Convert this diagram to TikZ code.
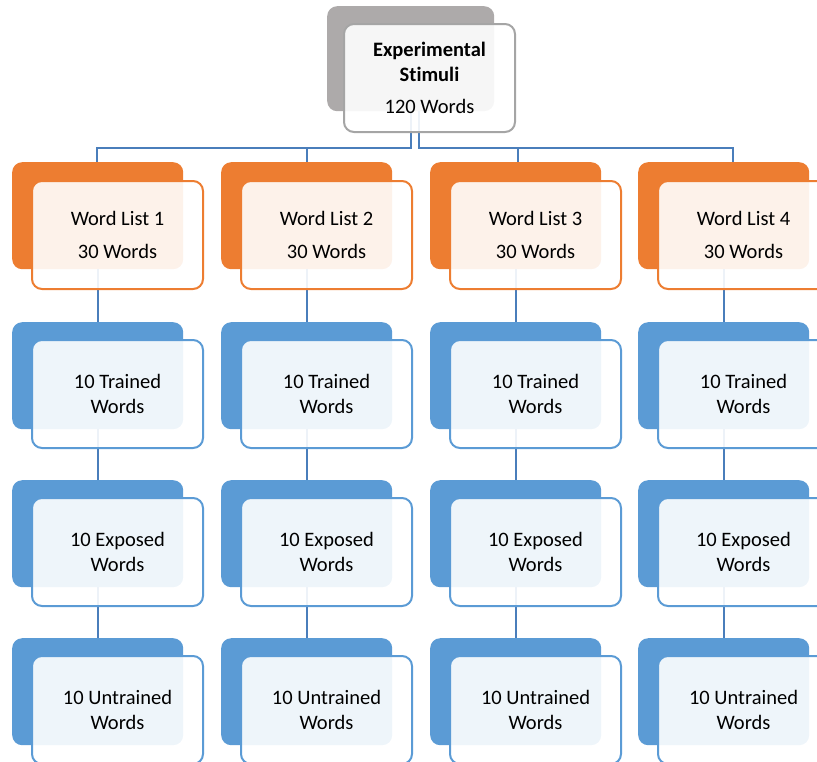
\documentclass[tikz,border=0pt]{standalone}
\usepackage{fontspec}
\setmainfont{Carlito}[Ligatures=NoCommon]
\definecolor{accOrange}{HTML}{ED7D31}
\definecolor{accBlue}{HTML}{5B9BD5}
\definecolor{accGray}{HTML}{ADAAAA}
\definecolor{edgeGray}{HTML}{A5A5A5}
\definecolor{linkBlue}{HTML}{4A7EBB}
\tikzset{
  backbox/.style={rounded corners=10pt, minimum width=171pt, minimum height=107pt,
    inner sep=0pt, anchor=north west, draw=none},
  frontbox/.style={rounded corners=10pt, minimum width=171pt, minimum height=108pt,
    inner sep=0pt, anchor=north west, line width=2pt, fill=white, fill opacity=0.9,
    text opacity=1, align=center, font=\fontsize{20.5}{24.5}\selectfont},
  conn/.style={draw=linkBlue, line width=2.2pt},
}
\begin{document}
\begin{tikzpicture}[x=1pt,y=-1pt]
\useasboundingbox (0,0) rectangle (817,761);
\clip (0,0) rectangle (817,761);

% back (solid) boxes
\node[backbox, fill=accGray, minimum width=167pt, minimum height=105pt] (btop) at (327,6) {};
\foreach \c/\x in {1/12,2/221,3/430,4/638}{
  \node[backbox, fill=accOrange] (b\c1) at (\x,162) {};
  \node[backbox, fill=accBlue] (b\c2) at (\x,322) {};
  \node[backbox, fill=accBlue] (b\c3) at (\x,480) {};
  \node[backbox, fill=accBlue] (b\c4) at (\x,638) {};
}

% connectors
\coordinate (busL) at (410.5,148);
\coordinate (topR) at (419,111);
\coordinate (busR) at (419,148);
\draw[conn] (btop.south) |- (busL) -| ([xshift=-0.5pt]b11.north);
\draw[conn] (btop.south) |- (busL) -| (b21.north);
\draw[conn] (topR) |- (busR) -| ([xshift=2pt]b31.north);
\draw[conn] (topR) |- (busR) -| ([xshift=9pt]b41.north);
\foreach \c in {1,2,3,4}{
  \draw[conn] (b\c1.south) -- (b\c2.north);
  \draw[conn] (b\c2.south) -- (b\c3.north);
  \draw[conn] (b\c3.south) -- (b\c4.north);
}

% front (outlined) boxes with the labels
\node[frontbox, draw=edgeGray] (ftop) at (343,23)
  {\textbf{Experimental}\\\textbf{Stimuli}\\[8pt]120 Words};
\foreach \c/\x in {1/31,2/240,3/449,4/657}{
  \node[frontbox, draw=accOrange] (f\c1) at (\x,180) {Word List \c\\[8pt]30 Words};
  \node[frontbox, draw=accBlue] (f\c2) at (\x,339) {10 Trained\\Words};
  \node[frontbox, draw=accBlue] (f\c3) at (\x,497) {10 Exposed\\Words};
  \node[frontbox, draw=accBlue] (f\c4) at (\x,655) {10 Untrained\\Words};
}
\end{tikzpicture}
\end{document}
